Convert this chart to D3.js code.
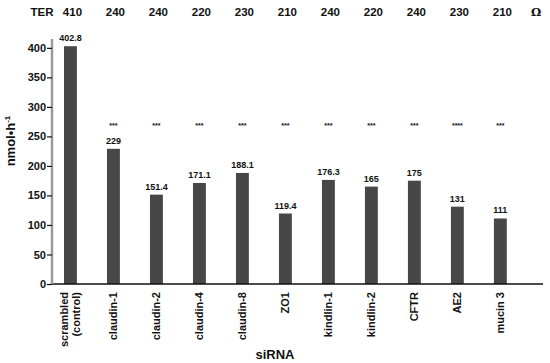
<!DOCTYPE html>
<html>
<head>
<meta charset="utf-8">
<script src="https://cdn.jsdelivr.net/npm/d3@7"></script>
<style>
  body { margin: 0; background: #fff; }
  svg text { font-family: Arial, "Liberation Sans", sans-serif; font-weight: bold; fill: #111; }
  .y.axis .domain { stroke: #9a9a9a; stroke-width: 2.5; }
  .y.axis .tick line { stroke: #111; stroke-width: 1.2; }
  .y.axis text { font-size: 11px; }
  .x.axis .domain { stroke: #111; stroke-width: 1.5; }
</style>
</head>
<body>
<script>
var categories = ['scrambled|(control)', 'claudin-1', 'claudin-2', 'claudin-4', 'claudin-8', 'ZO1',
                  'kindlin-1', 'kindlin-2', 'CFTR', 'AE2', 'mucin 3'];
var values = [402.8, 229, 151.4, 171.1, 188.1, 119.4, 176.3, 165, 175, 131, 111];
var valueLabels = ['402.8', '229', '151.4', '171.1', '188.1', '119.4', '176.3', '165', '175', '131', '111'];
var ter = [410, 240, 240, 220, 230, 210, 240, 220, 240, 230, 210];
var stars = ['', '***', '***', '***', '***', '***', '***', '***', '***', '****', '***'];
var yTicks = [0, 50, 100, 150, 200, 250, 300, 350, 400];

var w = 550, h = 363;
var mLeft = 52, mRight = 543, mTop = 39, mBottom = 284;

var svg = d3.select('body').append('svg')
  .attr('width', w).attr('height', h);

var x = d3.scaleBand()
  .domain(d3.range(categories.length))
  .range([55.4, 515.4])
  .paddingInner(0.7)
  .paddingOuter(0.2);

var y = d3.scaleLinear()
  .domain([0, 415])
  .range([mBottom, mTop]);

// bars
svg.selectAll('rect.bar')
  .data(values)
  .enter().append('rect')
  .attr('class', 'bar')
  .attr('x', function(d, i) { return x(i); })
  .attr('width', x.bandwidth())
  .attr('y', function(d) { return y(d); })
  .attr('height', function(d) { return y(0) - y(d); })
  .attr('fill', '#474747');

// value labels
svg.selectAll('text.val')
  .data(values)
  .enter().append('text')
  .attr('class', 'val')
  .attr('x', function(d, i) { return x(i) + x.bandwidth() / 2; })
  .attr('y', function(d) { return y(d) - 5; })
  .attr('text-anchor', 'middle')
  .style('font-size', '9px')
  .text(function(d, i) { return valueLabels[i]; });

// significance stars
svg.selectAll('text.star')
  .data(stars)
  .enter().append('text')
  .attr('class', 'star')
  .attr('x', function(d, i) { return x(i) + x.bandwidth() / 2; })
  .attr('y', 128)
  .attr('text-anchor', 'middle')
  .style('font-size', '7px')
  .text(function(d) { return d; });

// TER row
svg.append('text')
  .attr('x', 42).attr('y', 16)
  .attr('text-anchor', 'middle')
  .style('font-size', '11.5px')
  .text('TER');
svg.selectAll('text.ter')
  .data(ter)
  .enter().append('text')
  .attr('class', 'ter')
  .attr('x', function(d, i) { return x(i) + x.bandwidth() / 2 + 2; })
  .attr('y', 16)
  .attr('text-anchor', 'middle')
  .style('font-size', '11.5px')
  .text(function(d) { return d; });
svg.append('text')
  .attr('x', 536).attr('y', 16)
  .attr('text-anchor', 'middle')
  .style('font-size', '11.5px')
  .style('font-family', '"DejaVu Serif", serif')
  .text('Ω');

// x axis line
svg.append('g')
  .attr('class', 'x axis')
  .append('path')
  .attr('class', 'domain')
  .attr('d', 'M' + mLeft + ',' + mBottom + 'H' + mRight);

// y axis
var yAxis = d3.axisLeft(y).tickValues(yTicks).tickSize(5).tickPadding(1);
svg.append('g')
  .attr('class', 'y axis')
  .attr('transform', 'translate(' + mLeft + ',0)')
  .call(yAxis);
svg.select('.y.axis .domain').attr('d', 'M0,' + mTop + 'V' + mBottom);

// x category labels (rotated)
categories.forEach(function(c, i) {
  var lines = c.split('|');
  var cx = x(i) + x.bandwidth() / 2;
  var t = svg.append('text')
    .attr('transform', 'translate(' + cx + ',292) rotate(-90)')
    .attr('text-anchor', 'end')
    .style('font-size', '11px');
  lines.forEach(function(l, k) {
    t.append('tspan')
      .attr('x', 0)
      .attr('y', lines.length === 1 ? 4 : (k === 0 ? -2 : 10))
      .text(l);
  });
});

// axis titles
svg.append('text')
  .attr('x', 275).attr('y', 359)
  .attr('text-anchor', 'middle')
  .style('font-size', '13px')
  .text('siRNA');

var yl = svg.append('text')
  .attr('transform', 'translate(15,141) rotate(-90)')
  .attr('text-anchor', 'middle')
  .style('font-size', '13px');
yl.append('tspan').text('nmol•h');
yl.append('tspan').attr('dy', -5).style('font-size', '8px').text('-1');
</script>
</body>
</html>
